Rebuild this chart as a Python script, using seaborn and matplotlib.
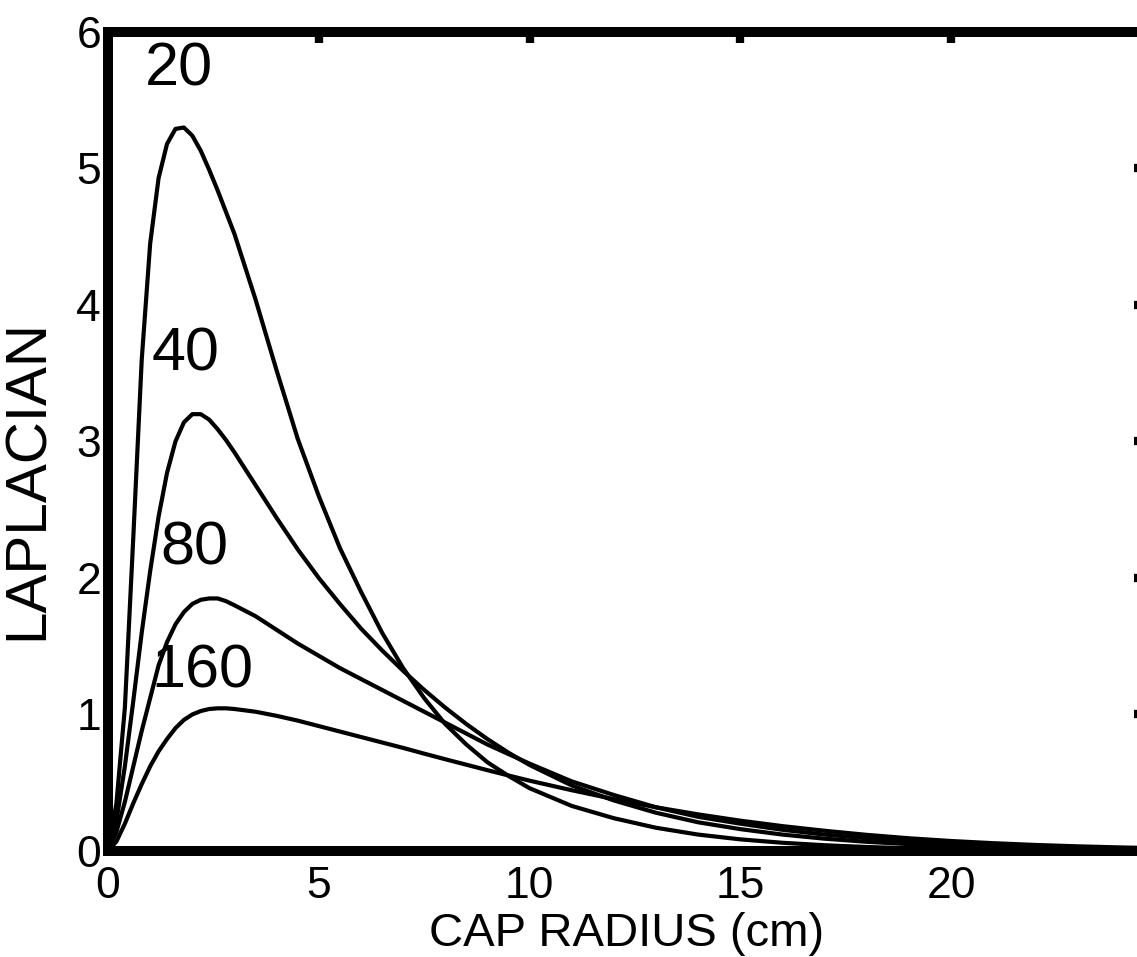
"""
Laplacian vs cap radius for four curves (20, 40, 80, 160).
Black-and-white line chart, thick frame, ticks inside on all sides.
"""

import matplotlib
matplotlib.use("Agg")
import matplotlib.pyplot as plt
import seaborn as sns
import pandas as pd

# ---------------------------------------------------------------------------
# Data
# ---------------------------------------------------------------------------
radius = [0, 0.2, 0.4, 0.6, 0.8, 1.0, 1.2, 1.4, 1.6, 1.8, 2.0, 2.2, 2.4, 2.6,
          2.8, 3.0, 3.5, 4.0, 4.5, 5.0, 5.5, 6.0, 6.5, 7.0, 7.5, 8.0, 8.5,
          9.0, 9.5, 10, 11, 12, 13, 14, 15, 16, 17, 18, 19, 20, 21, 22, 23,
          24, 25]

lap_20 = [0, 0.35, 1.05, 2.3, 3.6, 4.45, 4.93, 5.18, 5.29, 5.3, 5.24, 5.13, 4.99,
          4.84, 4.68, 4.52, 4.04, 3.52, 3.02, 2.6, 2.22, 1.9, 1.6, 1.34, 1.12, 0.93,
          0.78, 0.65, 0.55, 0.46, 0.33, 0.24, 0.17, 0.12, 0.085, 0.06, 0.042,
          0.029, 0.02, 0.014, 0.01, 0.007, 0.005, 0.003, 0.002]

lap_40 = [0, 0.22, 0.62, 1.1, 1.6, 2.05, 2.45, 2.77, 3.0, 3.14, 3.2, 3.2, 3.16,
          3.09, 3.01, 2.92, 2.68, 2.44, 2.21, 2.0, 1.81, 1.63, 1.47, 1.32, 1.18, 1.05,
          0.93, 0.82, 0.72, 0.63, 0.48, 0.37, 0.28, 0.21, 0.16, 0.12, 0.09,
          0.067, 0.05, 0.037, 0.027, 0.02, 0.015, 0.011, 0.008]

lap_80 = [0, 0.14, 0.36, 0.62, 0.88, 1.12, 1.36, 1.53, 1.66, 1.75, 1.81, 1.84, 1.85,
          1.85, 1.83, 1.8, 1.72, 1.62, 1.52, 1.43, 1.34, 1.26, 1.18, 1.1, 1.02, 0.94,
          0.86, 0.78, 0.71, 0.64, 0.51, 0.41, 0.32, 0.25, 0.2, 0.155, 0.12,
          0.093, 0.072, 0.056, 0.043, 0.033, 0.025, 0.019, 0.015]

lap_160 = [0, 0.07, 0.2, 0.35, 0.49, 0.62, 0.73, 0.82, 0.9, 0.96, 1.0, 1.025, 1.04,
           1.045, 1.045, 1.04, 1.02, 0.99, 0.955, 0.915, 0.875, 0.835, 0.795, 0.755,
           0.713, 0.672, 0.632, 0.592, 0.553, 0.515, 0.445, 0.38, 0.32, 0.268, 0.222,
           0.182, 0.148, 0.118, 0.093, 0.073, 0.057, 0.044, 0.034, 0.026, 0.02]

curve_names = ["20", "40", "80", "160"]
label_x = [1.68, 1.84, 2.06, 2.23]
label_y = [5.72, 3.63, 2.21, 1.31]

x_ticks = [0, 5, 10, 15, 20]
y_ticks = [0, 1, 2, 3, 4, 5, 6]

df = pd.concat([
    pd.DataFrame({"radius": radius, "laplacian": vals, "curve": name})
    for name, vals in zip(curve_names, [lap_20, lap_40, lap_80, lap_160])
], ignore_index=True)

# ---------------------------------------------------------------------------
# Style
# ---------------------------------------------------------------------------
sns.set_theme(style="white")
plt.rcParams["font.family"] = ["Liberation Sans", "DejaVu Sans"]
plt.rcParams["text.color"] = "black"
plt.rcParams["axes.labelcolor"] = "black"
plt.rcParams["xtick.color"] = "black"
plt.rcParams["ytick.color"] = "black"

fig = plt.figure(figsize=(11.37, 9.57), dpi=100)
ax = fig.add_axes([0.095, 0.1108, 0.912, 0.8558])

sns.lineplot(data=df, x="radius", y="laplacian", hue="curve",
             palette=["black"] * 4, estimator=None, sort=False,
             linewidth=3.0, legend=False, ax=ax)

for name, lx, ly in zip(curve_names, label_x, label_y):
    ax.text(lx, ly, name, fontsize=44, ha="center", va="center", color="black")

ax.set_xlim(0, 24.6)
ax.set_ylim(0, 6)
ax.set_xticks(x_ticks)
ax.set_yticks(y_ticks)

for side in ["top", "bottom", "left", "right"]:
    ax.spines[side].set_visible(True)
    ax.spines[side].set_linewidth(7.2)
    ax.spines[side].set_color("black")

ax.tick_params(axis="both", which="major", direction="in", length=8, width=6,
               colors="black", labelsize=32, top=True, right=True,
               labeltop=False, labelright=False)
ax.tick_params(axis="x", pad=11)
ax.tick_params(axis="y", pad=5)

ax.set_xlabel("CAP RADIUS (cm)", fontsize=34)
ax.set_ylabel("LAPLACIAN", fontsize=42)
ax.xaxis.set_label_coords(0.5, -0.074)
ax.yaxis.set_label_coords(-0.051, 0.453)

fig.savefig("out.png", dpi=100)
plt.close(fig)
